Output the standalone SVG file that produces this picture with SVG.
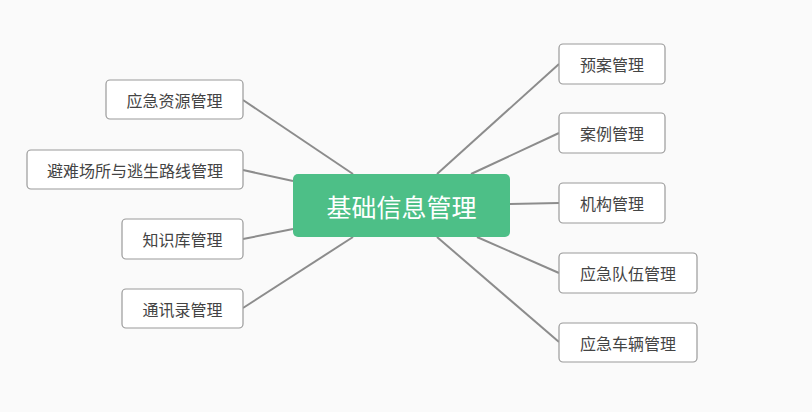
<svg xmlns="http://www.w3.org/2000/svg" width="812" height="412" viewBox="0 0 812 412">
<style>
.n rect{fill:#ffffff;stroke:#9a9a9a;stroke-width:1.2}
.n text{font-family:"Noto Sans CJK SC","Noto Sans",sans-serif;font-size:16px;fill:#444;text-anchor:middle;dominant-baseline:central}
#conn line{stroke:#8c8c8c;stroke-width:2}
</style>
<rect x="0" y="0" width="812" height="412" fill="#fafafa"/>
<g id="conn">
<line x1="243" y1="100" x2="353" y2="174"/>
<line x1="243" y1="170" x2="293" y2="181"/>
<line x1="243" y1="239" x2="293" y2="229"/>
<line x1="243" y1="308" x2="353" y2="237"/>
<line x1="559" y1="64" x2="437" y2="174"/>
<line x1="559" y1="133" x2="471" y2="174"/>
<line x1="559" y1="203" x2="510" y2="204"/>
<line x1="559" y1="273" x2="477" y2="237"/>
<line x1="559" y1="342" x2="437" y2="237"/>
</g>
<g id="center">
<rect x="293" y="174" width="217" height="63" rx="5" fill="#4dbf87"/>
<text x="401.5" y="206" font-family="Noto Sans CJK SC,sans-serif" font-size="25" fill="#ffffff" text-anchor="middle" dominant-baseline="central">基础信息管理</text>
</g>
<g id="n1" class="n"><rect x="106" y="80" width="137" height="39" rx="4"/><text x="174.5" y="99.5">应急资源管理</text></g>
<g id="n2" class="n"><rect x="27" y="150" width="216" height="39" rx="4"/><text x="135" y="169.5">避难场所与逃生路线管理</text></g>
<g id="n3" class="n"><rect x="122" y="219" width="121" height="40" rx="4"/><text x="182.5" y="239">知识库管理</text></g>
<g id="n4" class="n"><rect x="122" y="289" width="121" height="39" rx="4"/><text x="182.5" y="308.5">通讯录管理</text></g>
<g id="n5" class="n"><rect x="559" y="44" width="106" height="40" rx="4"/><text x="612" y="64">预案管理</text></g>
<g id="n6" class="n"><rect x="559" y="113" width="106" height="40" rx="4"/><text x="612" y="133">案例管理</text></g>
<g id="n7" class="n"><rect x="559" y="183" width="106" height="40" rx="4"/><text x="612" y="203">机构管理</text></g>
<g id="n8" class="n"><rect x="559" y="253" width="138" height="40" rx="4"/><text x="628" y="273">应急队伍管理</text></g>
<g id="n9" class="n"><rect x="559" y="323" width="138" height="39" rx="4"/><text x="628" y="342.5">应急车辆管理</text></g>
</svg>
